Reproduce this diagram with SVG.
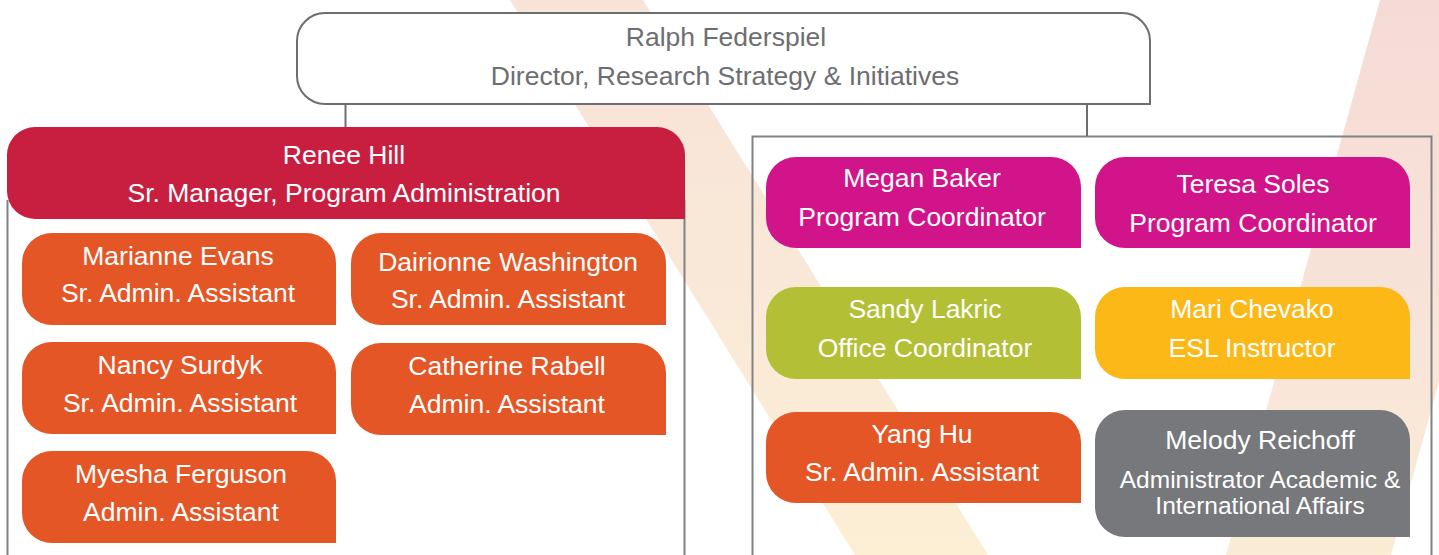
<svg xmlns="http://www.w3.org/2000/svg" width="1439" height="555" viewBox="0 0 1439 555">
<defs>
<linearGradient id="gL" x1="0" y1="0" x2="0" y2="1">
<stop offset="0" stop-color="#f8e3d8"/>
<stop offset="0.5" stop-color="#f9e8d8"/>
<stop offset="1" stop-color="#fcefd4"/>
</linearGradient>
<linearGradient id="gR" x1="0" y1="0" x2="0" y2="1">
<stop offset="0" stop-color="#f5dbd6"/>
<stop offset="0.6" stop-color="#f8e4d9"/>
<stop offset="1" stop-color="#fbecd6"/>
</linearGradient>
<style>
text{font-family:"Liberation Sans",Arial,sans-serif;text-anchor:middle;font-size:26.5px;fill:#ffffff}
.top text{fill:#6d6e71}
.frame{fill:none;stroke:#808285;stroke-width:2}
.conn{fill:none;stroke:#6d6e71;stroke-width:2}
.orange{fill:#e55626}
.magenta{fill:#d1148a}
.green{fill:#b3bf35}
.yellow{fill:#fbb817}
.gray{fill:#77787b}
.crimson{fill:#c81f41}
.small{font-size:24.5px}
</style>
</defs>
<rect x="0" y="0" width="1439" height="555" fill="#ffffff"/>
<g id="background">
<polygon points="510,0 643,0 988,555 855,555" fill="url(#gL)"/>
<polygon points="1380,0 1545,0 1391,555 1226,555" fill="url(#gR)"/>
</g>
<g id="frames">
<path class="frame" d="M7.5,200 V555 M684.5,200 V555"/>
<path class="frame" d="M752.5,555 V136.5 H1431.5 V555"/>
</g>
<g id="connectors">
<line class="conn" x1="345.5" y1="104" x2="345.5" y2="128"/>
<line class="conn" x1="1087" y1="104" x2="1087" y2="136"/>
</g>
<g id="ralph" class="top">
<path d="M325,13 H1122 A28,28 0 0 1 1150,41 V104 H325 A28,28 0 0 1 297,76 V41 A28,28 0 0 1 325,13 Z" fill="#ffffff" stroke="#6d6e71" stroke-width="2"/>
<text x="726" y="46">Ralph Federspiel</text>
<text x="725" y="85">Director, Research Strategy &amp; Initiatives</text>
</g>
<g id="renee">
<path class="crimson" d="M35,127 H657 A28,28 0 0 1 685,155 V219 H35 A28,28 0 0 1 7,191 V155 A28,28 0 0 1 35,127 Z"/>
<text x="344" y="164">Renee Hill</text>
<text x="344" y="202">Sr. Manager, Program Administration</text>
</g>
<g id="marianne">
<path class="orange" d="M52,233 H306 A30,30 0 0 1 336,263 V325 H52 A30,30 0 0 1 22,295 V263 A30,30 0 0 1 52,233 Z"/>
<text x="178" y="265">Marianne Evans</text>
<text x="178" y="302">Sr. Admin. Assistant</text>
</g>
<g id="dairionne">
<path class="orange" d="M381,233 H636 A30,30 0 0 1 666,263 V325 H381 A30,30 0 0 1 351,295 V263 A30,30 0 0 1 381,233 Z"/>
<text x="508" y="271">Dairionne Washington</text>
<text x="508" y="308">Sr. Admin. Assistant</text>
</g>
<g id="nancy">
<path class="orange" d="M52,342 H306 A30,30 0 0 1 336,372 V434 H52 A30,30 0 0 1 22,404 V372 A30,30 0 0 1 52,342 Z"/>
<text x="180" y="374">Nancy Surdyk</text>
<text x="180" y="412">Sr. Admin. Assistant</text>
</g>
<g id="catherine">
<path class="orange" d="M381,343 H636 A30,30 0 0 1 666,373 V435 H381 A30,30 0 0 1 351,405 V373 A30,30 0 0 1 381,343 Z"/>
<text x="507" y="375">Catherine Rabell</text>
<text x="507" y="413">Admin. Assistant</text>
</g>
<g id="myesha">
<path class="orange" d="M52,451 H306 A30,30 0 0 1 336,481 V543 H52 A30,30 0 0 1 22,513 V481 A30,30 0 0 1 52,451 Z"/>
<text x="181" y="483">Myesha Ferguson</text>
<text x="181" y="521">Admin. Assistant</text>
</g>
<g id="megan">
<path class="magenta" d="M796,157 H1051 A30,30 0 0 1 1081,187 V248 H796 A30,30 0 0 1 766,218 V187 A30,30 0 0 1 796,157 Z"/>
<text x="922" y="187">Megan Baker</text>
<text x="922" y="226">Program Coordinator</text>
</g>
<g id="teresa">
<path class="magenta" d="M1125,157 H1380 A30,30 0 0 1 1410,187 V248 H1125 A30,30 0 0 1 1095,218 V187 A30,30 0 0 1 1125,157 Z"/>
<text x="1253" y="193">Teresa Soles</text>
<text x="1253" y="232">Program Coordinator</text>
</g>
<g id="sandy">
<path class="green" d="M796,287 H1051 A30,30 0 0 1 1081,317 V379 H796 A30,30 0 0 1 766,349 V317 A30,30 0 0 1 796,287 Z"/>
<text x="925" y="318">Sandy Lakric</text>
<text x="925" y="357">Office Coordinator</text>
</g>
<g id="mari">
<path class="yellow" d="M1125,287 H1380 A30,30 0 0 1 1410,317 V379 H1125 A30,30 0 0 1 1095,349 V317 A30,30 0 0 1 1125,287 Z"/>
<text x="1252" y="318">Mari Chevako</text>
<text x="1252" y="357">ESL Instructor</text>
</g>
<g id="yang">
<path class="orange" d="M796,412 H1051 A30,30 0 0 1 1081,442 V503 H796 A30,30 0 0 1 766,473 V442 A30,30 0 0 1 796,412 Z"/>
<text x="922" y="443">Yang Hu</text>
<text x="922" y="481">Sr. Admin. Assistant</text>
</g>
<g id="melody">
<path class="gray" d="M1125,410 H1380 A30,30 0 0 1 1410,440 V537 H1125 A30,30 0 0 1 1095,507 V440 A30,30 0 0 1 1125,410 Z"/>
<text x="1260" y="449">Melody Reichoff</text>
<text class="small" x="1260" y="488">Administrator Academic &amp;</text>
<text class="small" x="1260" y="514">International Affairs</text>
</g>
</svg>
